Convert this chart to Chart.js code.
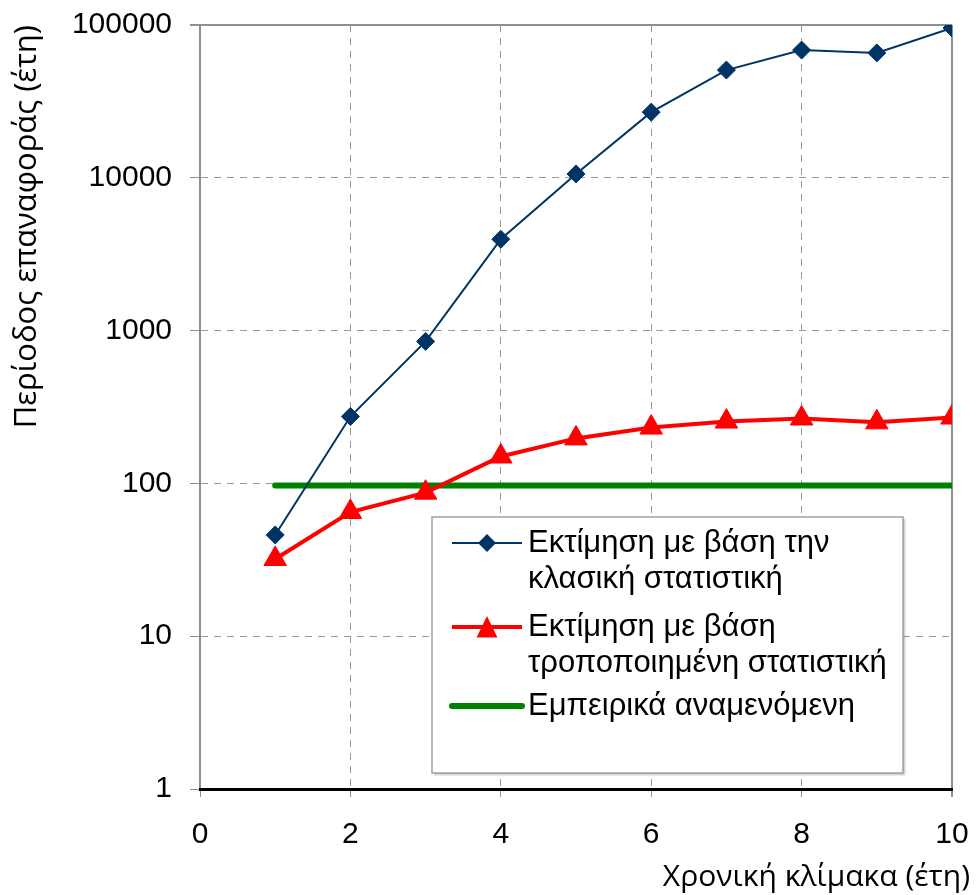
<!DOCTYPE html>
<html lang="el">
<head>
<meta charset="UTF-8">
<script src="https://cdn.jsdelivr.net/npm/chart.js"></script>
<style>
  body { margin: 0; background: #ffffff; }
  #wrap { width: 976px; height: 895px; position: relative; }
</style>
</head>
<body>
<div id="wrap"><canvas id="chart"></canvas></div>
<script>
const timeScales = [1, 2, 3, 4, 5, 6, 7, 8, 9, 10];
const classicValues = [46, 274, 850, 3960, 10600, 26900, 50700, 68500, 65700, 95600];
const modifiedValues = [32, 65, 87, 150, 197, 232, 254, 266, 251, 270];
const empiricalValues = [97, 97, 97, 97, 97, 97, 97, 97, 97, 97];
const xTicks = [0, 2, 4, 6, 8, 10];
const yTicks = [1, 10, 100, 1000, 10000, 100000];
const seriesNames = [
  ["Εκτίμηση με βάση την", "κλασική στατιστική"],
  ["Εκτίμηση με βάση", "τροποποιημένη στατιστική"],
  ["Εμπειρικά αναμενόμενη"]
];
const xTitle = "Χρονική κλίμακα (έτη)";
const yTitle = "Περίοδος επαναφοράς (έτη)";

const BLUE = "#003366", RED = "#ff0000", GREEN = "#008000";
const AXIS_GRAY = "#8f8f8f", GRID_GRAY = "#9a9a9a";

function points(values) {
  return timeScales.map((x, i) => ({ x: x, y: values[i] }));
}

// legend box drawn inside the plot area, like the original
const boxLegend = {
  id: "boxLegend",
  afterDatasetsDraw(chart) {
    const ctx = chart.ctx;
    const bx = 432, by = 517, bw = 471, bh = 256;
    ctx.save();
    ctx.shadowColor = "rgba(0,0,0,0.25)";
    ctx.shadowOffsetX = 2;
    ctx.shadowOffsetY = 2;
    ctx.shadowBlur = 2;
    ctx.fillStyle = "#ffffff";
    ctx.fillRect(bx, by, bw, bh);
    ctx.shadowColor = "transparent";
    ctx.strokeStyle = "#a0a0a0";
    ctx.lineWidth = 1.5;
    ctx.strokeRect(bx, by, bw, bh);

    const rows = [543, 627, 706];
    const lineGap = 36;
    const sx0 = 452, sx1 = 522, tx = 528;
    chart.data.datasets.forEach((ds, i) => {
      const y = rows[i];
      ctx.strokeStyle = ds.borderColor;
      ctx.lineWidth = ds.borderWidth;
      ctx.lineCap = ds.borderCapStyle || "butt";
      ctx.beginPath();
      ctx.moveTo(sx0, y);
      ctx.lineTo(sx1, y);
      ctx.stroke();
      const cx = (sx0 + sx1) / 2;
      ctx.fillStyle = ds.pointBackgroundColor;
      if (ds.pointStyle === "rectRot") {
        const r = ds.pointRadius;
        ctx.beginPath();
        ctx.moveTo(cx - r, y); ctx.lineTo(cx, y - r);
        ctx.lineTo(cx + r, y); ctx.lineTo(cx, y + r);
        ctx.closePath(); ctx.fill();
      } else if (ds.pointStyle === "triangle" && ds.pointRadius > 0) {
        const r = ds.pointRadius;
        ctx.beginPath();
        ctx.moveTo(cx, y - r * 0.85);
        ctx.lineTo(cx + r * 0.8, y + r * 0.8);
        ctx.lineTo(cx - r * 0.8, y + r * 0.8);
        ctx.closePath(); ctx.fill();
      }
      ctx.fillStyle = "#000000";
      ctx.font = "31px 'Liberation Sans', Arial, sans-serif";
      ctx.textBaseline = "middle";
      ctx.textAlign = "left";
      seriesNames[i].forEach((line, j) => ctx.fillText(line, tx, y + j * lineGap));
    });
    ctx.restore();
  }
};

new Chart(document.getElementById("chart"), {
  type: "line",
  data: {
    datasets: [
      {
        label: seriesNames[0].join(" "),
        data: points(classicValues),
        borderColor: BLUE,
        backgroundColor: BLUE,
        pointBackgroundColor: BLUE,
        pointBorderColor: BLUE,
        borderWidth: 2,
        pointStyle: "rectRot",
        pointRadius: 9,
        pointBorderWidth: 1,
        order: 1
      },
      {
        label: seriesNames[1].join(" "),
        data: points(modifiedValues),
        borderColor: RED,
        backgroundColor: RED,
        pointBackgroundColor: RED,
        pointBorderColor: RED,
        borderWidth: 4,
        pointStyle: "triangle",
        pointRadius: 13,
        pointBorderWidth: 1,
        order: 2
      },
      {
        label: seriesNames[2].join(" "),
        data: points(empiricalValues),
        borderColor: GREEN,
        backgroundColor: GREEN,
        pointBackgroundColor: GREEN,
        borderWidth: 6,
        borderCapStyle: "round",
        pointRadius: 0,
        order: 3
      }
    ]
  },
  options: {
    responsive: true,
    maintainAspectRatio: false,
    animation: false,
    events: [],
    layout: { padding: { top: 25, right: 6, left: 0, bottom: 0 } },
    plugins: {
      legend: { display: false },
      tooltip: { enabled: false },
      title: {
        display: true,
        position: "bottom",
        align: "end",
        text: xTitle,
        color: "#000000",
        font: { family: "'Open Sans', sans-serif", size: 30, weight: "normal" },
        padding: { top: 0, bottom: 0 }
      }
    },
    scales: {
      x: {
        type: "linear",
        min: 0,
        max: 10,
        afterBuildTicks: s => { s.ticks = xTicks.map(v => ({ value: v })); },
        afterFit: s => { s.height = 70; s.paddingRight = 24; s.paddingLeft = 0; },
        ticks: {
          color: "#000000",
          font: { family: "'Liberation Sans', Arial, sans-serif", size: 30 },
          padding: 20,
          maxRotation: 0
        },
        grid: {
          color: c => c.tick && c.tick.value === 0 ? "rgba(0,0,0,0)" :
                      (c.tick && c.tick.value === 10 ? AXIS_GRAY : GRID_GRAY),
          lineWidth: c => c.tick && c.tick.value === 10 ? 2 : 1,
          tickColor: AXIS_GRAY,
          tickLength: 8,
          tickBorderDash: []
        },
        border: {
          color: "#000000",
          width: 3,
          z: 1,
          dash: c => c.tick && c.tick.value > 0 && c.tick.value < 10 ? [7, 6] : []
        }
      },
      y: {
        type: "logarithmic",
        min: 1,
        max: 100000,
        afterBuildTicks: s => { s.ticks = yTicks.map(v => ({ value: v })); },
        afterFit: s => { s.width = 200; s.paddingTop = 0; s.paddingBottom = 0; },
        ticks: {
          color: "#000000",
          font: { family: "'Liberation Sans', Arial, sans-serif", size: 30 },
          padding: 18,
          callback: v => String(v)
        },
        grid: {
          color: c => c.tick && c.tick.value === 1 ? "rgba(0,0,0,0)" :
                      (c.tick && c.tick.value === 100000 ? AXIS_GRAY : GRID_GRAY),
          lineWidth: c => c.tick && c.tick.value === 100000 ? 2 : 1,
          tickColor: AXIS_GRAY,
          tickLength: 10,
          tickBorderDash: []
        },
        border: {
          color: AXIS_GRAY,
          width: 2,
          dash: c => c.tick && c.tick.value > 1 && c.tick.value < 100000 ? [7, 6] : []
        },
        title: {
          display: true,
          text: yTitle,
          align: "end",
          color: "#000000",
          font: { family: "'Open Sans', sans-serif", size: 31, weight: "normal" },
          padding: { top: 9, bottom: 0 }
        }
      }
    }
  },
  plugins: [boxLegend]
});
</script>
</body>
</html>
